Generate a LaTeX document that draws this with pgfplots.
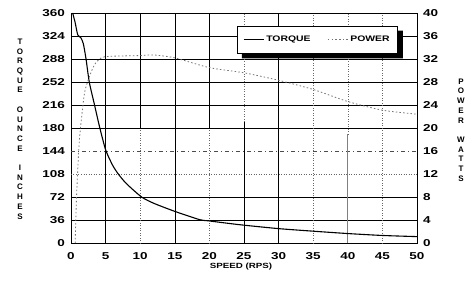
\documentclass[border=0pt]{standalone}
\usepackage{fontspec}
\setmainfont{Liberation Sans}
\newfontfamily\wfont{Liberation Sans}[FakeStretch=1.35]
\newfontfamily\lfont{Liberation Sans}[FakeStretch=1.3]
\usepackage{pgfplots}
\pgfplotsset{compat=1.18}
\begin{document}
\begin{tikzpicture}
\useasboundingbox (-71pt,-42pt) rectangle (398pt,243pt);
\begin{axis}[
  at={(0,0)}, anchor=south west, scale only axis, width=346pt, height=230pt,
  xmin=0, xmax=50, ymin=0, ymax=360,
  xtick={0,5,...,50}, ytick={0,36,...,360},
  major tick length=0pt,
  axis line style={black, line width=0.6pt},
  tick label style={font=\wfont\bfseries\fontsize{10}{12}\selectfont},
  /pgf/number format/assume math mode=true,
  xticklabel shift=6pt, yticklabel shift=2.5pt,
  clip=false,
]
% grid lines
\draw[black, line width=0.5pt] (axis cs:0,324) -- (axis cs:50,324);
\draw[black, line width=0.5pt] (axis cs:0,288) -- (axis cs:50,288);
\draw[black, line width=0.5pt] (axis cs:0,252) -- (axis cs:50,252);
\draw[black, line width=0.5pt] (axis cs:0,216) -- (axis cs:50,216);
\draw[black, line width=0.5pt] (axis cs:0,180) -- (axis cs:50,180);
\draw[black!70, line width=0.5pt, dash pattern=on 4pt off 3pt on 1pt off 3pt] (axis cs:0,144) -- (axis cs:50,144);
\draw[black!60, line width=0.5pt, dotted] (axis cs:0,108) -- (axis cs:50,108);
\draw[black, line width=0.9pt] (axis cs:0,72) -- (axis cs:50,72);
\draw[black, line width=0.9pt] (axis cs:0,36) -- (axis cs:50,36);
\draw[black, line width=0.5pt] (axis cs:5,0) -- (axis cs:5,360);
\draw[black, line width=0.5pt] (axis cs:15,0) -- (axis cs:15,360);
\draw[black, line width=0.5pt] (axis cs:30,0) -- (axis cs:30,360);
\draw[black, line width=0.5pt] (axis cs:10,180) -- (axis cs:10,360);
\draw[black, line width=0.5pt] (axis cs:20,180) -- (axis cs:20,360);
\draw[black!60, line width=0.5pt, dotted] (axis cs:10,0) -- (axis cs:10,180);
\draw[black!60, line width=0.5pt, dotted] (axis cs:20,0) -- (axis cs:20,180);
\draw[black, line width=0.5pt] (axis cs:25,0) -- (axis cs:25,190);
\draw[black!60, line width=0.5pt, dotted] (axis cs:25,190) -- (axis cs:25,360);
\draw[black!60, line width=0.5pt, dotted] (axis cs:35,0) -- (axis cs:35,360);
\draw[black!50, line width=0.6pt] (axis cs:40,0) -- (axis cs:40,170);
\draw[black!60, line width=0.5pt, dotted] (axis cs:40,170) -- (axis cs:40,360);
\draw[black!60, line width=0.5pt, dotted] (axis cs:45,0) -- (axis cs:45,360);
% torque
\addplot[black, line width=1.1pt, smooth, tension=0.4] coordinates {
(0.24,360) (0.6,345) (0.97,326) (1.44,321) (1.78,312) (2.16,289) (2.64,252)
(3.36,218) (4.08,184) (5.0,146) (6.0,122) (6.83,108) (8.0,93) (10.2,72)
(12,62) (15,49.5) (18.6,36.5) (20,34.5) (24.4,28.6) (30,22.5) (35,18.5)
(40,14.8) (45,11.8) (50,10)
};
\end{axis}
\begin{axis}[
  at={(0,0)}, anchor=south west, scale only axis, width=346pt, height=230pt,
  xmin=0, xmax=50, ymin=0, ymax=40,
  ytick={0,4,...,40},
  axis y line*=right, hide x axis,
  major tick length=0pt,
  axis line style={black, line width=0.6pt},
  tick label style={font=\wfont\bfseries\fontsize{10}{12}\selectfont},
  /pgf/number format/assume math mode=true,
  yticklabel shift=2.5pt,
  legend columns=2,
  legend image code/.code={\draw[#1] (0pt,0pt) -- (20pt,0pt);},
  legend style={at={(0.945,0.945)}, anchor=north east, draw=black, line width=0.6pt,
    fill=white, name=leg,
    font=\lfont\bfseries\fontsize{8}{9}\selectfont,
    inner xsep=6pt, inner ysep=8pt,
    /tikz/every even column/.append style={column sep=15pt}},
]
\addlegendimage{black, line width=1.1pt}
\addlegendentry{TORQUE}
\addplot[black!55, line width=0.8pt, dash pattern=on 1.5pt off 2.2pt, smooth, tension=0.4] coordinates {
(0.6,0) (0.8,8) (1.15,16.8) (1.5,21.5) (2.02,26.5) (3,30) (3.7,31.5) (4.9,32.4)
(10,32.6) (12,32.7) (15,32.2) (20,30.5) (25,29.6) (30,28.3) (35,26.7)
(40,24.6) (45,23.1) (50,22.4)
};
\addlegendentry{POWER}
\end{axis}
\fill[black] ([yshift=-5pt]leg.north east) -- ++(5pt,0) -- ([xshift=5pt,yshift=-5pt]leg.south east)
  -- ([xshift=5pt,yshift=-5pt]leg.south west) -- ([xshift=5pt]leg.south west) -- (leg.south east) -- cycle;
\node[font=\lfont\bfseries\fontsize{7.5}{9}\selectfont] at (170pt,-24pt) {SPEED (RPS)};
\node[align=center, font=\bfseries\fontsize{8}{9.7}\selectfont] at (-51pt,114pt)
  {T\\O\\R\\Q\\U\\E\\[9.7pt]O\\U\\N\\C\\E\\[9.7pt]I\\N\\C\\H\\E\\S};
\node[align=center, font=\bfseries\fontsize{8}{9.7}\selectfont] at (390pt,113pt)
  {P\\O\\W\\E\\R\\[9.7pt]W\\A\\T\\T\\S};
\end{tikzpicture}
\end{document}
